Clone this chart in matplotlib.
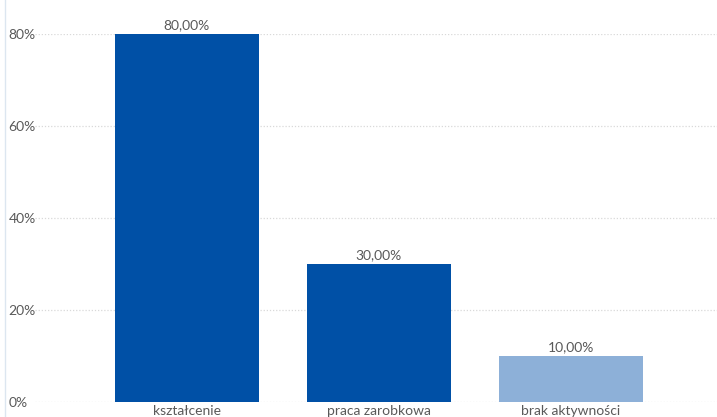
import matplotlib
matplotlib.use("Agg")
import matplotlib.pyplot as plt
from matplotlib.lines import Line2D

categories = ["kształcenie", "praca zarobkowa", "brak aktywności"]
values = [80.0, 30.0, 10.0]
bar_colors = ["#0050A6", "#0050A6", "#8DB0D8"]
ytick_vals = [0, 20, 40, 60, 80]
ytick_labels = ["0%", "20%", "40%", "60%", "80%"]

plt.rcParams["font.family"] = ["Lato", "DejaVu Sans"]

fig = plt.figure(figsize=(7.17, 4.17), dpi=100)
ax = fig.add_axes([35 / 717, 1 - 402 / 417, 1 - 35 / 717, (402 - 34) / 417])

x = range(len(categories))
bars = ax.bar(x, values, width=0.75, color=bar_colors, zorder=3)
ax.bar_label(bars, labels=[f"{v:.2f}".replace(".", ",") + "%" for v in values],
             padding=2, fontsize=10, color="#595959")

ax.set_xlim(-0.79, 2.76)
ax.set_ylim(0, 80)
ax.set_yticks(ytick_vals)
ax.set_yticklabels(ytick_labels, ha="left")
ax.set_xticks(list(x))
ax.set_xticklabels(categories)
ax.tick_params(axis="y", length=0, pad=19, labelsize=10, labelcolor="#595959")
ax.tick_params(axis="x", length=0, pad=2, labelsize=10, labelcolor="#595959")

ax.yaxis.grid(True, linestyle=(0, (1, 1.5)), color="#D9D9D9", linewidth=0.9, zorder=0)
for s in ax.spines.values():
    s.set_visible(False)

# thin frame line on the left edge of the picture
fig.add_artist(Line2D([5 / 717, 5 / 717], [0, 1], color="#DCE6F0", linewidth=1))

fig.savefig("out.png", dpi=100)
